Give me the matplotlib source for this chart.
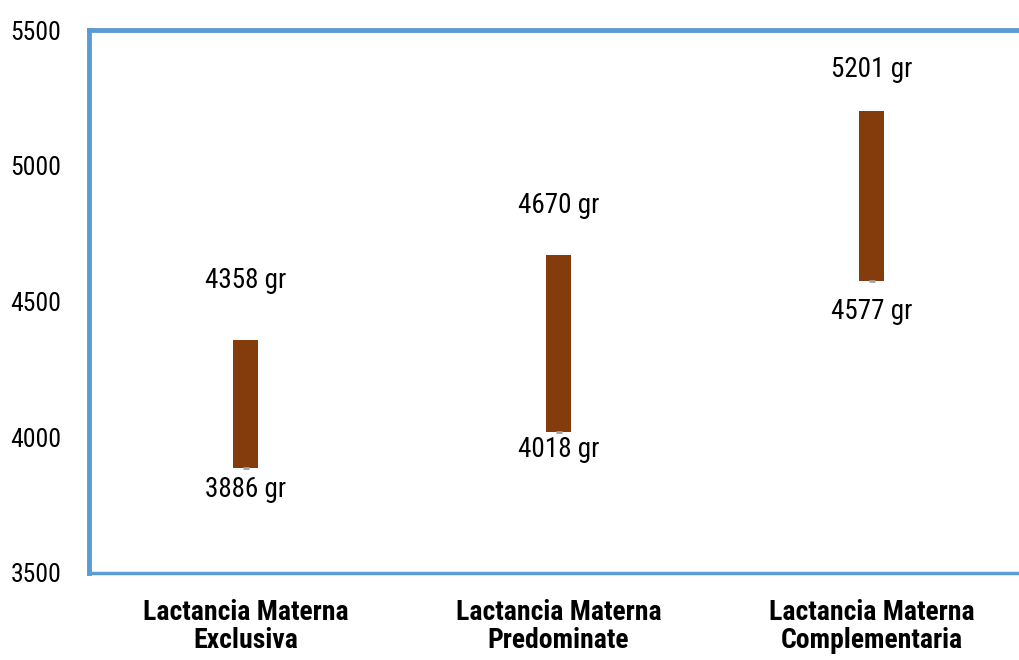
import matplotlib.pyplot as plt

# Birth-weight ranges per breastfeeding group
categories = ["Lactancia Materna\nExclusiva", "Lactancia Materna\nPredominate", "Lactancia Materna\nComplementaria"]
low_values = [3886, 4018, 4577]
high_values = [4358, 4670, 5201]

# label distance from the bar ends, in points
high_offsets = [43, 36, 30]
low_offsets = [15, 12, 22]

plt.rcParams['font.family'] = ['Roboto Condensed', 'Liberation Sans', 'DejaVu Sans']

blue = '#5B9BD5'
brown = '#843C0C'

fig = plt.figure(figsize=(10.19, 6.6), dpi=100)
# plot area runs past the right edge of the figure
ax = fig.add_axes([89 / 1019, (660 - 573) / 660, 939 / 1019, 543 / 660])

x = range(len(categories))
heights = [h - l for h, l in zip(high_values, low_values)]
ax.bar(x, heights, bottom=low_values, width=0.08, color=brown, zorder=3)
ax.plot(x, low_values, linestyle='none', marker='_', markersize=5, color='#A0A0A0', mew=2, zorder=4)

for xi, lo, hi, ho, lof in zip(x, low_values, high_values, high_offsets, low_offsets):
    ax.annotate(f"{hi} gr", (xi, hi), xytext=(0, ho), textcoords='offset points',
                ha='center', va='center', fontsize=19.5)
    ax.annotate(f"{lo} gr", (xi, lo), xytext=(0, -lof), textcoords='offset points',
                ha='center', va='center', fontsize=19.5)

ax.set_xlim(-0.5, 2.5)
ax.set_ylim(3500, 5500)
ax.set_yticks([3500, 4000, 4500, 5000, 5500])
ax.set_xticks(list(x))
ax.set_xticklabels(categories, fontsize=20, fontweight='bold', linespacing=1.05)
ax.tick_params(axis='both', length=0)
ax.tick_params(axis='y', labelsize=18.5, pad=20)
ax.tick_params(axis='x', pad=19)

for side in ['top', 'left', 'right']:
    ax.spines[side].set_color(blue)
    ax.spines[side].set_linewidth(3.5)
ax.spines['bottom'].set_color(blue)
ax.spines['bottom'].set_linewidth(2.5)
ax.axhline(3500, color='#BDD7EE', linewidth=0.8, zorder=5)

fig.savefig('out.png', dpi=100)
